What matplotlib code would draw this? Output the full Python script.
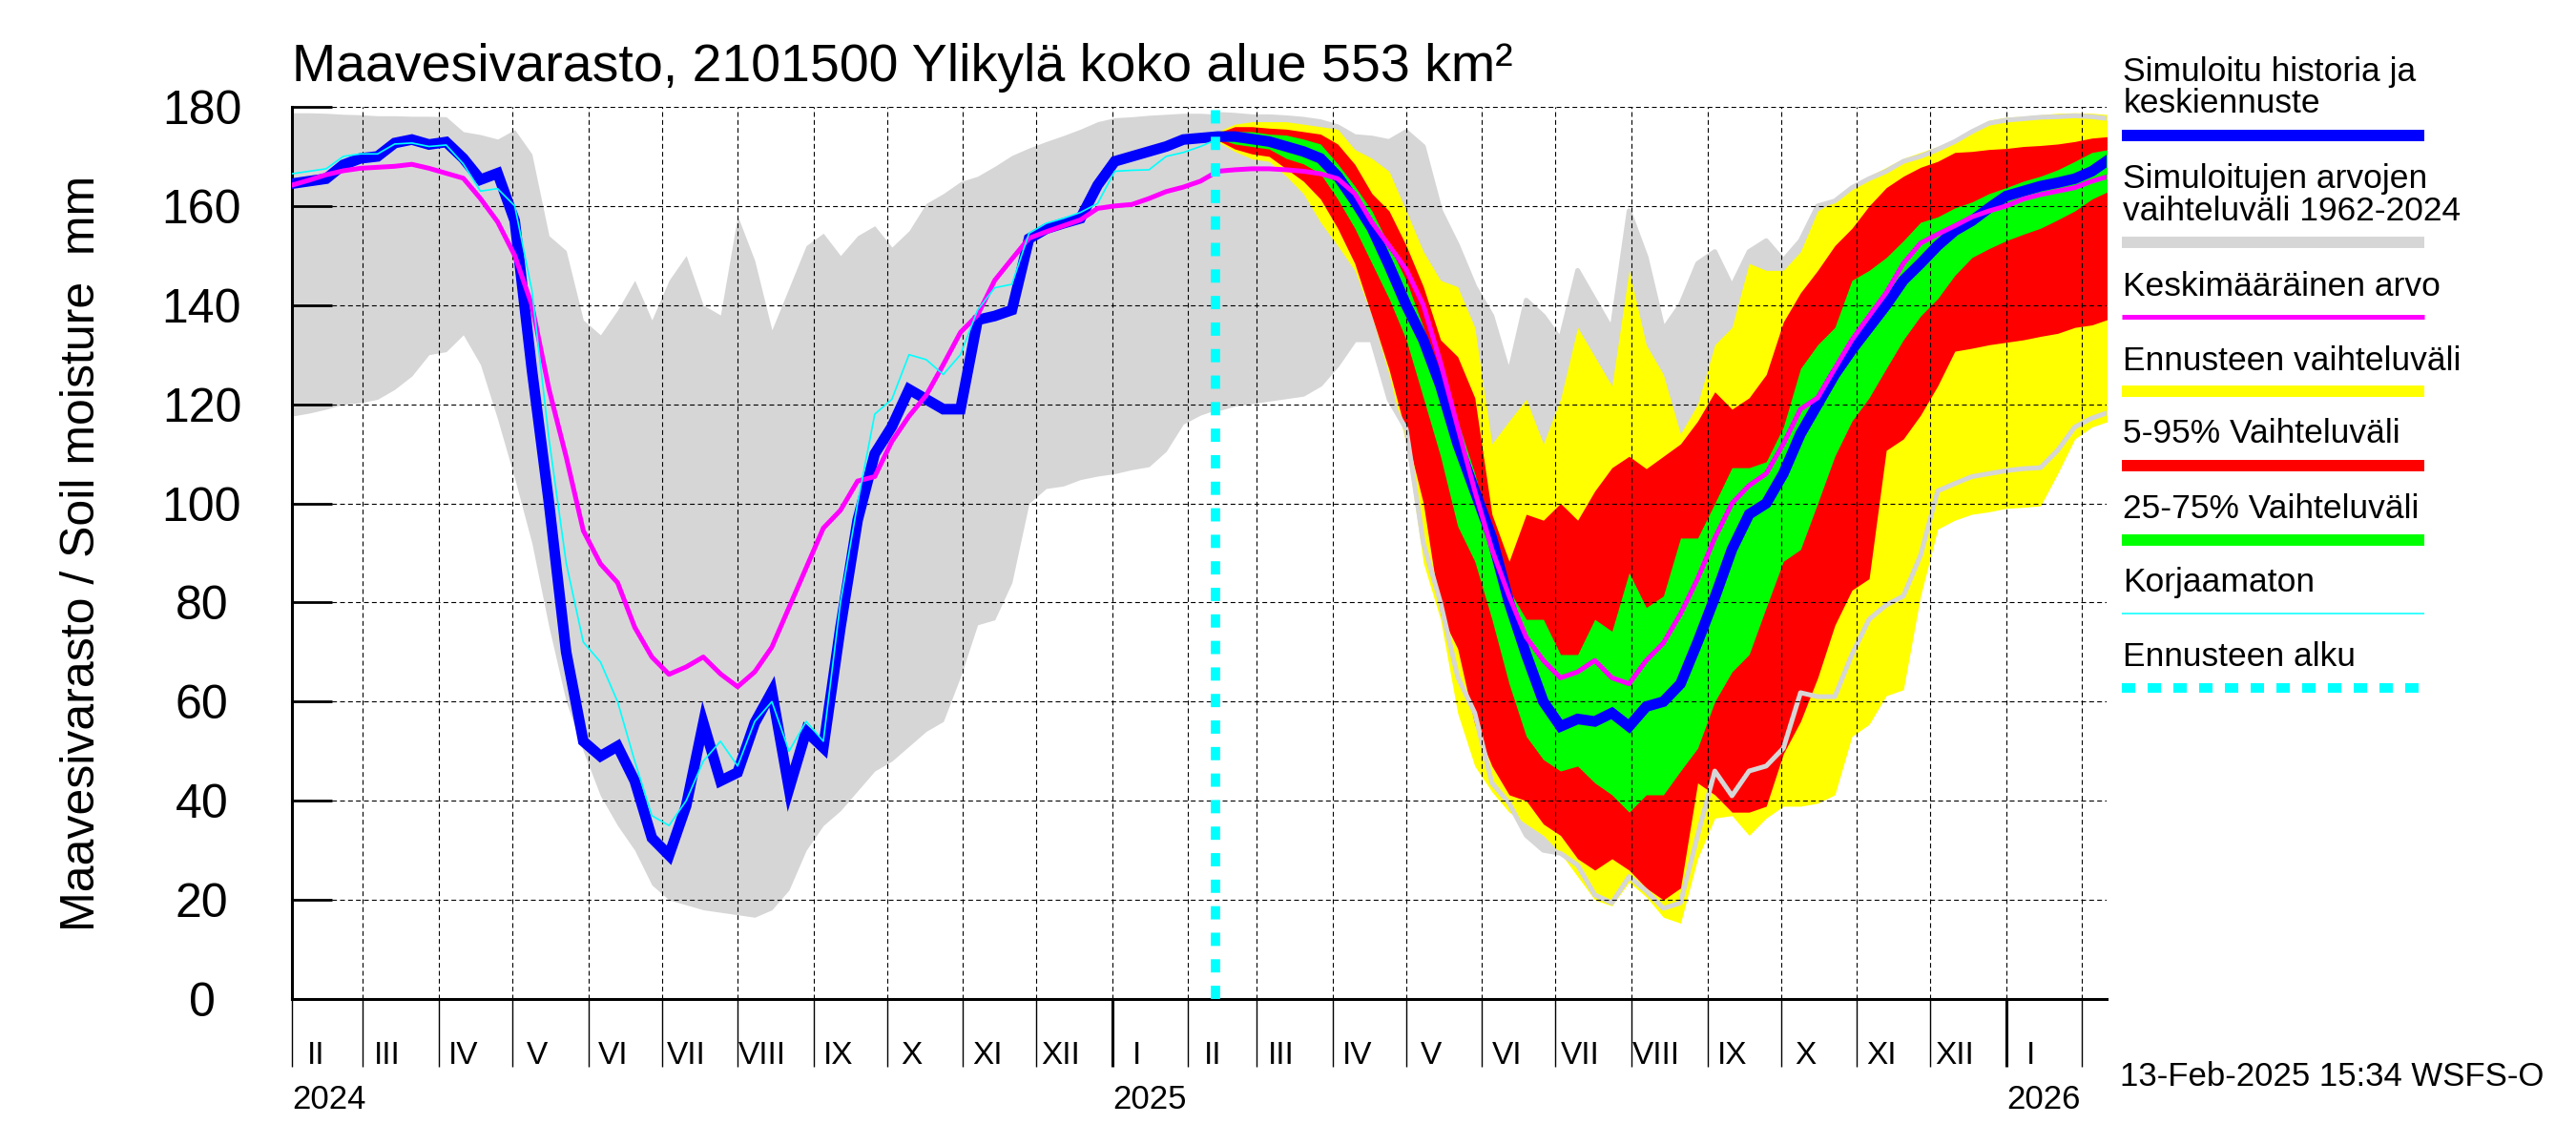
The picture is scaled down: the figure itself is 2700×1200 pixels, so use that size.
import pandas as pd
import matplotlib
matplotlib.use("Agg")
import matplotlib.pyplot as plt
import matplotlib.dates as mdates
from matplotlib.lines import Line2D

plt.rcParams['font.family'] = ['Liberation Sans', 'DejaVu Sans']

# weekly values, 2024-02-01 .. 2026-02-12
dates = pd.date_range('2024-02-01', periods=107, freq='7D')
n_hist = 55   # history points (up to forecast start)
fc_start = 54  # index where the forecast begins

# simulated range 1962-2024 (grey band)
grey_hi = [178.8, 178.8, 178.7, 178.5, 178.4, 178.2, 178.2, 178.1, 178.1, 178.0,
           175.0, 174.4, 173.5, 175.4, 170.5, 154.0, 151.0, 137.0, 134.0, 139.0,
           145.0, 137.0, 145.0, 150.0, 140.0, 138.0, 158.0, 149.0, 135.0, 143.5,
           152.0, 154.5, 150.0, 154.0, 156.0, 151.7, 155.0, 160.5, 162.5, 164.9,
           166.0, 168.0, 170.2, 171.7, 173.0, 174.2, 175.5, 177.0, 177.8, 178.0,
           178.3, 178.5, 178.7, 178.7, 178.5,
           178.3, 178.0, 178.0, 177.8, 177.5, 177.0, 176.0, 174.0, 173.7, 173.0,
           175.0, 172.0, 159.0, 152.0, 143.7, 137.8, 126.0, 141.0, 137.8, 133.0,
           147.0, 141.0, 135.0, 159.0, 149.6, 135.0, 140.0, 148.4, 150.8, 143.7,
           150.8, 153.0, 149.0, 153.0, 160.0, 161.0, 163.7, 165.5, 167.0, 169.0,
           170.0, 171.4, 173.0, 175.0, 176.7, 177.3, 177.6, 177.9, 178.0, 178.2,
           178.0, 177.6]
grey_lo = [117.6, 118.2, 119.0, 120.0, 120.3, 121.0, 123.0, 125.7, 130.0, 130.6,
           134.0, 128.0, 117.0, 105.0, 92.0, 75.0, 60.0, 50.0, 41.0, 35.0,
           30.0, 23.0, 20.0, 19.0, 18.0, 17.5, 17.0, 16.5, 18.0, 22.0,
           30.0, 35.0, 38.0, 42.0, 46.0, 48.0, 51.0, 54.0, 56.0, 65.0,
           75.5, 76.5, 84.0, 100.0, 103.0, 103.5, 104.8, 105.5, 106.0, 106.8,
           107.4, 110.5, 116.0, 117.8, 119.0,
           120.0, 120.5, 121.0, 121.5, 122.0, 124.0, 128.0, 133.0, 133.0, 121.0,
           115.0, 92.0, 80.0, 65.0, 57.7, 43.6, 39.5, 33.0, 30.0, 29.4,
           27.0, 21.0, 19.4, 24.7, 21.8, 18.3, 19.4, 33.0, 46.0, 41.0,
           46.0, 47.0, 50.6, 61.8, 61.0, 61.0, 69.5, 76.6, 79.5, 81.3,
           89.5, 102.5, 104.0, 105.4, 106.0, 106.6, 107.0, 107.2, 110.7, 115.4,
           117.2, 118.4]

# simulated history + median forecast
sim_median = [164.5, 165.0, 165.5, 168.3, 169.6, 170.0, 172.7, 173.4, 172.4, 172.9,
              169.6, 165.3, 166.6, 157.0, 127.0, 100.0, 70.0, 52.0, 49.0, 51.0,
              44.0, 32.5, 29.0, 39.0, 55.7, 44.0, 45.7, 55.7, 62.0, 42.4,
              54.0, 50.7, 75.0, 96.6, 110.0, 115.5, 123.0, 121.0, 119.0, 119.0,
              137.0, 137.8, 139.0, 153.4, 155.4, 156.5, 157.5, 164.2, 169.0, 170.0,
              171.0, 172.0, 173.4, 173.7, 174.0,
              174.0, 173.5, 173.0, 172.0, 171.0, 169.6, 166.0, 161.0, 155.5, 148.0,
              140.0, 133.0, 123.7, 112.0, 102.5, 93.0, 80.0, 69.5, 60.0, 55.0,
              56.5, 56.0, 57.7, 55.0, 59.0, 60.0, 63.6, 72.0, 81.0, 90.7,
              97.8, 100.0, 106.0, 114.0, 120.0, 126.0, 131.0, 135.5, 140.0, 145.0,
              148.4, 152.0, 155.0, 157.0, 159.6, 162.0, 163.0, 164.0, 164.7, 165.5,
              167.0, 169.4]

# long-term mean
mean_val = [164.2, 165.2, 166.3, 167.1, 167.6, 167.8, 168.0, 168.4, 167.6, 166.6,
            165.6, 161.5, 156.8, 150.0, 140.0, 123.0, 109.4, 94.5, 87.8, 84.0,
            75.0, 69.0, 65.5, 67.0, 69.0, 65.6, 63.0, 66.0, 71.0, 79.0,
            87.0, 95.0, 98.6, 104.5, 105.4, 112.5, 117.6, 121.8, 128.0, 134.5,
            138.0, 145.0, 149.3, 153.5, 154.8, 156.0, 157.2, 159.5, 160.0, 160.3,
            161.5, 162.9, 163.8, 165.0, 167.0,
            167.3, 167.5, 167.5, 167.3, 167.0, 166.5, 165.5, 162.5, 156.7, 152.0,
            147.2, 140.0, 128.4, 115.4, 102.5, 90.7, 81.3, 73.0, 68.3, 64.8,
            66.0, 68.3, 64.8, 63.6, 68.3, 71.8, 77.7, 84.8, 93.0, 100.0,
            103.6, 106.0, 112.0, 119.0, 121.3, 127.2, 133.0, 137.8, 142.5, 148.4,
            152.5, 154.3, 156.0, 157.8, 159.0, 160.0, 161.4, 162.3, 163.0, 163.7,
            165.0, 166.0]

# uncorrected simulation (history only)
uncorrected = [166.5, 167.0, 167.5, 170.0, 170.5, 170.5, 172.5, 172.7, 172.0, 172.3,
               168.5, 163.0, 163.5, 160.0, 143.0, 113.0, 88.0, 72.0, 68.0, 60.0,
               48.0, 37.0, 35.0, 40.0, 48.0, 52.0, 47.0, 56.0, 60.0, 50.0,
               56.0, 52.0, 80.0, 100.0, 118.0, 121.0, 130.0, 129.0, 126.0, 130.0,
               139.0, 143.5, 144.2, 154.5, 156.5, 157.5, 158.7, 160.5, 167.0, 167.2,
               167.3, 170.0, 170.8, 172.0, 173.5]

# forecast bands (from forecast start)
fc_min = [173.0, 171.0, 169.5, 169.0, 166.0, 162.5, 156.7, 152.0, 147.0, 137.8,
          126.0, 112.0, 88.0, 76.6, 57.7, 47.0, 41.8, 37.7, 35.3, 33.0,
          29.4, 24.7, 20.0, 18.8, 23.6, 20.6, 16.5, 15.3, 28.3, 36.5,
          37.0, 33.0, 36.5, 38.9, 38.9, 39.5, 41.2, 53.0, 55.4, 61.2,
          62.4, 81.3, 94.8, 96.6, 97.8, 98.3, 99.0, 99.2, 99.5, 106.0,
          113.0, 115.4, 116.6]
fc_max = [175.0, 176.5, 177.0, 177.0, 177.0, 176.5, 176.0, 175.5, 171.4, 169.6,
          167.0, 159.0, 150.8, 145.0, 143.7, 135.5, 112.0, 116.6, 121.0, 112.0,
          121.0, 135.5, 129.6, 123.7, 147.0, 132.0, 126.0, 114.0, 120.0, 132.0,
          135.5, 148.4, 147.0, 147.0, 150.8, 159.0, 161.0, 163.7, 166.0, 167.8,
          169.6, 170.8, 172.0, 173.4, 175.5, 177.3, 177.9, 178.1, 178.4, 178.7,
          178.8, 178.7, 178.4]
fc_p05 = [173.3, 171.5, 170.5, 170.0, 167.5, 165.0, 161.4, 155.5, 148.4, 137.8,
          127.0, 114.0, 100.0, 77.7, 70.7, 55.4, 47.0, 41.2, 40.0, 35.3,
          33.0, 28.3, 26.0, 28.3, 26.0, 22.4, 20.0, 22.4, 43.6, 41.2,
          37.7, 37.7, 38.9, 49.5, 56.0, 64.8, 75.4, 82.5, 84.8, 110.7,
          113.0, 117.8, 123.7, 130.7, 131.3, 132.0, 132.5, 133.0, 133.7, 134.3,
          135.5, 136.0, 137.2]
fc_p95 = [174.7, 176.0, 176.0, 175.7, 175.5, 175.0, 174.5, 172.5, 168.4, 162.5,
          159.0, 152.0, 143.7, 133.0, 129.6, 121.3, 97.8, 88.3, 97.8, 96.6,
          100.0, 96.6, 102.5, 107.2, 109.5, 107.0, 109.5, 112.0, 116.6, 122.5,
          119.0, 121.3, 126.0, 136.6, 142.5, 147.0, 152.0, 155.5, 160.0, 163.7,
          166.0, 167.8, 169.0, 170.8, 171.0, 171.4, 171.6, 172.0, 172.2, 172.5,
          173.0, 173.7, 174.0]
fc_p25 = [173.6, 172.5, 172.0, 171.5, 169.6, 168.5, 166.5, 161.4, 155.5, 148.4,
          141.3, 133.0, 121.3, 109.5, 95.4, 88.3, 76.6, 63.6, 53.0, 48.3,
          46.0, 47.0, 43.6, 41.2, 37.7, 41.2, 41.2, 46.0, 50.6, 60.0,
          66.0, 69.5, 79.0, 88.3, 90.7, 100.0, 109.5, 116.6, 121.3, 127.2,
          133.0, 137.8, 141.3, 146.0, 149.6, 151.4, 153.0, 154.3, 155.5, 157.2,
          159.0, 161.4, 163.0]
fc_p75 = [174.4, 175.0, 175.0, 174.5, 174.3, 173.5, 172.5, 168.5, 164.0, 159.0,
          152.0, 145.0, 135.5, 126.0, 116.6, 106.0, 93.0, 82.5, 76.6, 76.6,
          69.5, 69.5, 76.6, 74.2, 86.0, 79.0, 81.3, 93.0, 93.0, 100.0,
          107.2, 107.2, 108.4, 115.4, 127.2, 132.0, 135.5, 145.0, 147.0, 149.6,
          153.0, 156.7, 157.8, 159.6, 160.8, 162.5, 163.7, 165.0, 166.0, 167.3,
          169.0, 170.8, 171.4]

forecast_start = pd.Timestamp('2025-02-12')
months_roman = ['I', 'II', 'III', 'IV', 'V', 'VI', 'VII', 'VIII', 'IX', 'X', 'XI', 'XII']

GREY = '#d6d6d6'
fc_dates = dates[fc_start:]
hist_dates = dates[:n_hist]

fig = plt.figure(figsize=(27, 12), dpi=100)
ax = fig.add_axes([0.1133, 0.1275, 0.7045, 0.7792])

ax.fill_between(dates, grey_lo, grey_hi, color=GREY, lw=0, zorder=1)
ax.fill_between(fc_dates, fc_min, fc_max, color='#ffff00', lw=0, zorder=1.1)
ax.fill_between(fc_dates, fc_p05, fc_p95, color='#ff0000', lw=0, zorder=1.2)
ax.fill_between(fc_dates, fc_p25, fc_p75, color='#00ff00', lw=0, zorder=1.3)
ax.plot(fc_dates, grey_lo[fc_start:], color=GREY, lw=3.6, zorder=1.4)
ax.plot(fc_dates, grey_hi[fc_start:], color=GREY, lw=3.6, zorder=1.4)

ax.plot(dates, sim_median, color='#0000ff', lw=8, zorder=3, solid_joinstyle='miter')
ax.plot(dates, mean_val, color='#ff00ff', lw=3.6, zorder=4)
ax.plot(hist_dates, uncorrected, color='#00ffff', lw=1.2, zorder=5)
ax.axvline(forecast_start, color='#00ffff', lw=7, linestyle=(0, (1.43, 1.43)), zorder=6)

ax.set_xlim(pd.Timestamp('2024-02-01'), pd.Timestamp('2026-02-11'))
ax.set_ylim(0, 180)
ax.set_yticks(range(0, 181, 20))
ax.tick_params(axis='y', direction='in', length=30, width=2, labelsize=36, pad=68)
for lab in ax.get_yticklabels():
    lab.set_horizontalalignment('center')

ax.xaxis.set_major_locator(mdates.YearLocator())
ax.xaxis.set_minor_locator(mdates.MonthLocator())
ax.tick_params(axis='x', which='both', direction='out', length=51, labelbottom=False)
ax.tick_params(axis='x', which='minor', width=1.0)
ax.tick_params(axis='x', which='major', width=2.2)

ax.set_axisbelow(False)
grid_style = dict(color='black', lw=0.8, linestyle=(0, (4.5, 3)))
ax.grid(True, which='major', axis='y', **grid_style)
ax.grid(True, which='both', axis='x', **grid_style)

for side in ['top', 'right']:
    ax.spines[side].set_visible(False)
ax.spines['left'].set_linewidth(2.2)
ax.spines['bottom'].set_linewidth(2.2)

# month and year labels below the axis
trans = ax.get_xaxis_transform()
for m in pd.date_range('2024-02-01', '2026-01-01', freq='MS'):
    ax.text(m + pd.Timedelta(days=10), -0.064, months_roman[m.month - 1], transform=trans,
            ha='center', va='center', fontsize=24)
for yr, pos in [('2024', '2024-02-01'), ('2025', '2025-01-01'), ('2026', '2026-01-01')]:
    ax.text(pd.Timestamp(pos), -0.113, yr, transform=trans, ha='left', va='center', fontsize=25)

fig.text(0.1133, 0.929, 'Maavesivarasto, 2101500 Ylikylä koko alue 553 km²',
         fontsize=40, ha='left', va='baseline')
fig.text(0.0318, 0.5167, 'Maavesivarasto / Soil moisture  mm', rotation=90,
         fontsize=36, ha='center', va='center')
fig.text(0.9874, 1 - 1129 / 1200, '13-Feb-2025 15:34 WSFS-O', fontsize=25,
         ha='right', va='center')

# legend drawn by hand: text above a sample line
lx0, lx1 = 2224 / 2700, 2541 / 2700
legend_text = [('Simuloitu historia ja', 84.8), ('keskiennuste', 117.8),
               ('Simuloitujen arvojen', 196.6), ('vaihteluväli 1962-2024', 231),
               ('Keskimääräinen arvo', 309.8), ('Ennusteen vaihteluväli', 388),
               ('5-95% Vaihteluväli', 464.5), ('25-75% Vaihteluväli', 542.8),
               ('Korjaamaton', 620), ('Ennusteen alku', 698)]
for txt, yb in legend_text:
    fig.text(lx0 + 0.0005, 1 - yb / 1200, txt, fontsize=25.5, ha='left', va='baseline')
legend_lines = [('#0000ff', 141.7, 8.6, '-'), (GREY, 254, 8.6, '-'),
                ('#ff00ff', 332, 3.6, '-'), ('#ffff00', 409.5, 8.6, '-'),
                ('#ff0000', 487.5, 8.6, '-'), ('#00ff00', 565.6, 8.6, '-'),
                ('#00ffff', 643, 1.1, '-'), ('#00ffff', 720.5, 7.2, (0, (1.4, 1.3)))]
for col, yc, lw, ls in legend_lines:
    fig.add_artist(Line2D([lx0, lx1], [1 - yc / 1200] * 2, color=col, lw=lw,
                          linestyle=ls, solid_capstyle='butt', dash_capstyle='butt',
                          transform=fig.transFigure))

fig.savefig('out.png', dpi=100)
